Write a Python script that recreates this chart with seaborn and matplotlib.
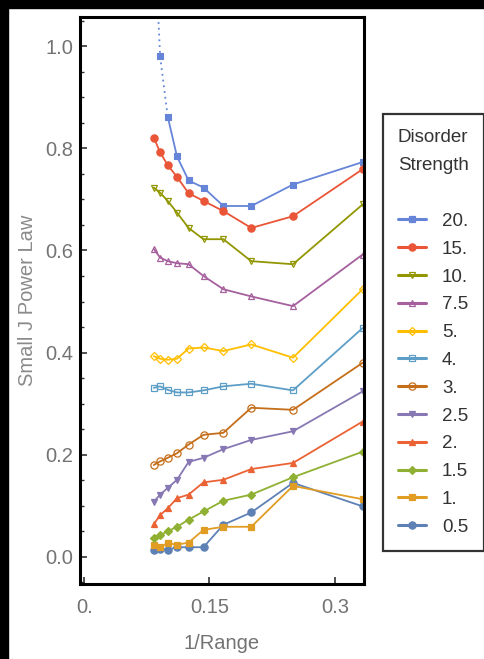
import numpy as np
import pandas as pd
import matplotlib
matplotlib.use("Agg")
import matplotlib.pyplot as plt
import seaborn as sns
from matplotlib.ticker import MultipleLocator, FixedLocator
from matplotlib.lines import Line2D

sns.set_theme(style="white")
plt.rcParams['font.family'] = ['Liberation Sans', 'DejaVu Sans']

# ---------------- data ----------------
inv_range = [1/12, 1/11, 1/10, 1/9, 1/8, 1/7, 1/6, 1/5, 1/4, 1/3]

disorder_labels = ["0.5", "1.", "1.5", "2.", "2.5", "3.", "4.", "5.", "7.5", "10.", "15.", "20."]

s_05 = [0.014, 0.015, 0.014, 0.019, 0.019, 0.019, 0.063, 0.087, 0.145, 0.099]
s_1 = [0.024, 0.020, 0.027, 0.024, 0.028, 0.053, 0.059, 0.059, 0.139, 0.113]
s_15 = [0.037, 0.043, 0.050, 0.059, 0.073, 0.089, 0.110, 0.122, 0.156, 0.206]
s_2 = [0.064, 0.082, 0.095, 0.115, 0.122, 0.146, 0.151, 0.172, 0.184, 0.265]
s_25 = [0.108, 0.122, 0.135, 0.151, 0.186, 0.194, 0.211, 0.229, 0.246, 0.324]
s_3 = [0.180, 0.187, 0.194, 0.203, 0.220, 0.239, 0.243, 0.292, 0.288, 0.380]
s_4 = [0.331, 0.334, 0.327, 0.322, 0.322, 0.326, 0.334, 0.339, 0.326, 0.448]
s_5 = [0.393, 0.388, 0.386, 0.388, 0.408, 0.410, 0.403, 0.416, 0.390, 0.524]
s_75 = [0.603, 0.586, 0.579, 0.575, 0.573, 0.550, 0.524, 0.510, 0.491, 0.592]
s_10 = [0.723, 0.713, 0.697, 0.674, 0.644, 0.622, 0.622, 0.579, 0.573, 0.690]
s_15b = [0.821, 0.792, 0.767, 0.744, 0.712, 0.697, 0.677, 0.644, 0.667, 0.759]
s_20 = [1.25, 0.980, 0.862, 0.784, 0.737, 0.723, 0.687, 0.687, 0.729, 0.773]

series = [s_05, s_1, s_15, s_2, s_25, s_3, s_4, s_5, s_75, s_10, s_15b, s_20]

colors = ["#5E81B5", "#E19C24", "#8FB032", "#EB6235", "#8778B3", "#C56E1A",
          "#5D9EC7", "#FFBF00", "#A5609D", "#929600", "#E95536", "#6685D9"]
markers = ["o", "s", "D", "^", "v", "o", "s", "D", "^", "v", "o", "s"]
filled = [True, True, True, True, True, False, False, False, False, False, True, True]
msizes = [5.2, 4, 4.2, 4.8, 4.8, 5.2, 4.2, 4.2, 4.8, 4.8, 5.2, 3.8]

# ---------------- figure ----------------
W, H = 485, 659
fig = plt.figure(figsize=(W/100, H/100), dpi=100)
fig.patch.set_facecolor("white")
ax = fig.add_axes([80/W, 1-584/H, (364-80)/W, (584-17)/H])

gray = "#737373"
LW = 1.3
handles = []
for lab, vals, c, m, f, ms in zip(disorder_labels, series, colors, markers, filled, msizes):
    df = pd.DataFrame({"x": inv_range, "y": vals})
    mfc = c if f else "none"
    if lab == "20.":
        sns.lineplot(data=df.iloc[:3], x="x", y="y", ax=ax, color=c, lw=LW,
                     linestyle=(0, (1, 2.2)), legend=False, sort=False,
                     estimator=None)
        sns.lineplot(data=df.iloc[2:], x="x", y="y", ax=ax, color=c, lw=LW,
                     legend=False, sort=False, estimator=None)
        sns.scatterplot(data=df, x="x", y="y", ax=ax, color=c, marker=m, s=ms**2,
                        edgecolor=c, linewidth=0.8, legend=False)
    else:
        sns.lineplot(data=df, x="x", y="y", ax=ax, color=c, lw=LW, marker=m,
                     markersize=ms, markerfacecolor=mfc, markeredgecolor=c,
                     markeredgewidth=0.9, legend=False, sort=False, estimator=None)
    handles.append(Line2D([], [], color=c, lw=2.2, marker=m, markersize=ms,
                          markerfacecolor=mfc, markeredgecolor=c, markeredgewidth=0.9,
                          label=lab))

ax.set_xlim(-0.005, 0.335)

ax.xaxis.set_major_locator(FixedLocator([0.0, 0.15, 0.3]))
ax.set_xticklabels(["0.", "0.15", "0.3"])
ax.yaxis.set_major_locator(FixedLocator([0.0, 0.2, 0.4, 0.6, 0.8, 1.0]))
ax.yaxis.set_minor_locator(MultipleLocator(0.05))
ax.set_yticklabels(["0.0", "0.2", "0.4", "0.6", "0.8", "1.0"])
ax.set_ylim(-0.053, 1.057)

ax.tick_params(axis="both", which="major", direction="in", length=5, width=1.2,
               color="#333333", labelsize=14.5, labelcolor=gray, pad=5,
               left=True, bottom=True, top=False, right=False)
ax.tick_params(axis="y", which="minor", direction="in", length=3, width=1,
               color="#333333", left=True)
ax.tick_params(axis="x", which="major", pad=10)

for sp in ax.spines.values():
    sp.set_color("black")
    sp.set_linewidth(2.2)

ax.set_xlabel("1/Range", fontsize=14.5, color=gray, labelpad=12)
ax.set_ylabel("Small J Power Law", fontsize=14.5, color="#8a8a8a", labelpad=6)

leg = ax.legend(handles=handles[::-1], title="Disorder\nStrength\n", loc="upper left",
                bbox_to_anchor=(383/W, 1-114/H), bbox_transform=fig.transFigure,
                borderaxespad=0, frameon=True, fancybox=False, edgecolor="black",
                fontsize=13.5, title_fontsize=13.5, handlelength=1.5,
                handletextpad=0.85, labelspacing=0.57, borderpad=0.8,
                alignment="left", numpoints=1)
leg.get_frame().set_linewidth(1.6)
leg.get_title().set_color("#333333")
leg.get_title().set_linespacing(1.85)
for t in leg.get_texts():
    t.set_color("#333333")

# black border bands of the original screenshot
fig.patches.append(plt.Rectangle((0, 1-8/H), 1, 8/H, transform=fig.transFigure,
                                 color="black", zorder=10))
fig.patches.append(plt.Rectangle((0, 0), 8/W, 1, transform=fig.transFigure,
                                 color="black", zorder=10))

fig.savefig("out.png", dpi=100, facecolor="white")
